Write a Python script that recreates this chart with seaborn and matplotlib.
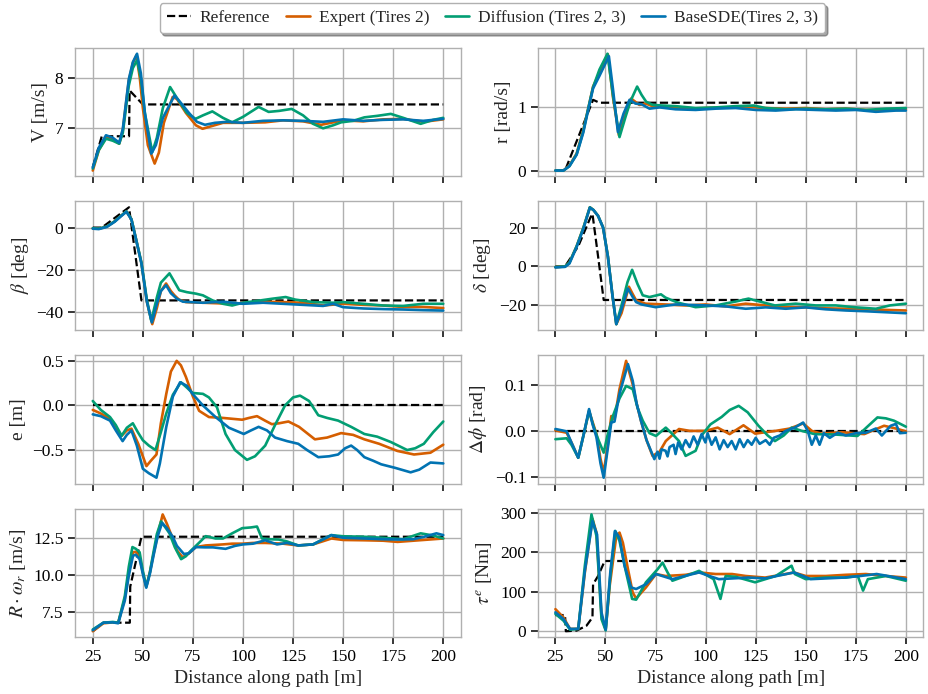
import numpy as np
import pandas as pd
import matplotlib
matplotlib.use("Agg")
import matplotlib.pyplot as plt
import matplotlib.ticker as ticker
import seaborn as sns

SERIES = ["Reference", "Expert (Tires 2)", "Diffusion (Tires 2, 3)", "BaseSDE(Tires 2, 3)"]
COLORS = ["black", "#d55e00", "#029e73", "#0173b2"]
XTICKS = [25, 50, 75, 100, 125, 150, 175, 200]
XLABEL = "Distance along path [m]"

# ---- V [m/s]
v_ref_x = [25, 29.5, 43.1, 43.4, 50, 200]
v_ref_y = [6.21, 6.83, 6.83, 7.75, 7.47, 7.47]
v_exp_x = [25, 28, 31.6, 35, 38.2, 40, 43, 45, 46.8, 48.5, 50, 52.5, 55.9, 58, 60.5, 64.9, 67, 71.5, 76.5, 79.8, 84, 90, 100, 111, 120, 130, 139, 150, 160, 170, 180, 190, 200]
v_exp_y = [6.14, 6.55, 6.81, 6.77, 6.68, 6.95, 7.95, 8.3, 8.46, 8.0, 7.4, 6.65, 6.28, 6.5, 7.1, 7.62, 7.58, 7.3, 7.05, 6.98, 7.03, 7.1, 7.1, 7.11, 7.15, 7.13, 7.06, 7.15, 7.13, 7.17, 7.18, 7.12, 7.17]
v_dif_x = [25, 28, 31.6, 35, 38.2, 40, 43, 45, 47.1, 49, 51, 54.7, 57, 60, 63.6, 67, 72, 76.3, 80, 84.7, 90, 94.6, 100, 107.8, 112.8, 118, 124.3, 130, 135, 140, 145, 149, 155, 160.6, 167, 173.8, 180, 188.7, 195, 200]
v_dif_y = [6.18, 6.55, 6.78, 6.74, 6.68, 6.9, 7.85, 8.2, 8.36, 8.0, 7.3, 6.51, 6.8, 7.4, 7.82, 7.6, 7.3, 7.18, 7.25, 7.33, 7.2, 7.11, 7.22, 7.42, 7.32, 7.34, 7.38, 7.25, 7.08, 6.99, 7.05, 7.11, 7.14, 7.21, 7.24, 7.28, 7.2, 7.08, 7.16, 7.2]
v_sde_x = [25, 28, 31.6, 35, 38.2, 40, 43, 45, 47.1, 49, 51, 54.2, 56.5, 60, 65.8, 69, 73, 77, 81, 86, 92, 100, 110, 120, 130, 140, 150, 160, 170, 180, 190, 200]
v_sde_y = [6.2, 6.6, 6.85, 6.8, 6.7, 6.98, 7.98, 8.32, 8.49, 8.1, 7.3, 6.48, 6.65, 7.2, 7.65, 7.5, 7.3, 7.12, 7.06, 7.1, 7.12, 7.1, 7.14, 7.15, 7.14, 7.12, 7.17, 7.14, 7.16, 7.17, 7.14, 7.18]

# ---- r [rad/s]
r_ref_x = [25, 29.8, 43.8, 47, 200]
r_ref_y = [0, 0, 1.12, 1.074, 1.074]
r_exp_x = [25, 29, 32, 35.6, 38.9, 41.5, 43.8, 47, 51.2, 53.7, 56.7, 59.5, 62.8, 66.9, 70.2, 75, 80, 90, 100, 110, 120, 130, 140, 150, 160, 170, 180, 190, 200]
r_exp_y = [0, 0, 0.08, 0.27, 0.64, 1.0, 1.33, 1.55, 1.84, 1.17, 0.56, 0.85, 1.14, 1.04, 1.06, 1.0, 1.02, 0.98, 0.99, 1.0, 1.01, 0.99, 0.98, 0.99, 0.97, 0.98, 0.96, 0.95, 0.97]
r_dif_x = [25, 29, 32, 35.6, 38.9, 41.5, 43.8, 47, 51, 53.7, 57, 60, 62.5, 65.8, 68, 70.3, 73.6, 78, 85, 95, 105, 115, 124, 130, 140, 150, 160, 170, 180, 190, 200]
r_dif_y = [0, 0, 0.07, 0.26, 0.62, 1.0, 1.32, 1.6, 1.85, 1.2, 0.53, 0.85, 1.1, 1.33, 1.2, 1.09, 1.04, 1.03, 1.02, 0.99, 1.0, 1.02, 1.03, 0.99, 0.97, 0.98, 0.97, 0.98, 0.96, 0.98, 0.99]
r_sde_x = [25, 29, 32, 35.6, 38.9, 41.5, 43.8, 47, 51.7, 53.7, 56.2, 59, 62, 65, 68, 72, 77, 85, 95, 105, 115, 125, 135, 145, 155, 165, 175, 185, 195, 200]
r_sde_y = [0, 0, 0.07, 0.25, 0.6, 0.98, 1.3, 1.5, 1.81, 1.3, 0.61, 0.9, 1.12, 1.06, 1.05, 0.98, 1.0, 0.97, 0.96, 0.98, 0.99, 0.96, 0.95, 0.97, 0.96, 0.95, 0.96, 0.93, 0.95, 0.95]

# ---- beta [deg]
b_ref_x = [25, 29.5, 43.1, 43.6, 49.3, 200]
b_ref_y = [0, 0, 9.6, 6, -34.4, -34.4]
b_exp_x = [25, 28, 32, 36, 39, 41.8, 44.3, 46.5, 49.3, 52, 54.7, 57, 59, 61.6, 64, 65.8, 68, 71.5, 80, 94.6, 110, 120, 130, 140, 150, 160, 170, 180, 190, 200]
b_exp_y = [-0.3, -0.5, 0.5, 3, 5.5, 7.7, 4, -5, -16.8, -35, -45.6, -38, -30, -26.4, -30, -32, -34, -35.2, -35.5, -36, -35, -35.2, -35.5, -36.8, -36, -36.5, -36.8, -37.5, -37.5, -38]
b_dif_x = [25, 28, 32, 36, 39, 41.8, 44.3, 46.5, 49.3, 52, 54.2, 57, 59, 63.3, 66, 68.2, 72, 76.5, 80, 84.8, 90, 94.6, 100, 108, 114.6, 121.3, 126, 135, 145, 150, 160, 170, 180, 190, 200]
b_dif_y = [-0.3, -0.5, 0.5, 3, 5.5, 7.7, 4, -5, -16.5, -34, -44, -33, -26, -21.6, -26, -29.6, -30.5, -31.2, -32, -34.4, -36, -36.8, -35.5, -34.5, -33.6, -32.8, -34, -35.2, -35.5, -35.2, -36, -36.8, -37, -36, -36]
b_sde_x = [25, 28, 32, 36, 39, 41.8, 44.3, 46.5, 49.3, 52, 54.5, 57, 59, 61.6, 64, 67, 70, 80, 90, 100, 110, 120, 130, 140, 145, 150, 160, 170, 180, 190, 200]
b_sde_y = [-0.5, -0.7, 0.3, 2.8, 5.3, 7.5, 3.8, -5.2, -17, -35, -44.8, -36, -30, -27.2, -31, -33.6, -35, -35.5, -35, -36, -35.5, -36, -36.5, -37, -36, -37.6, -38.2, -38.5, -38.7, -39, -39.2]

# ---- delta [deg]
d_ref_x = [25, 29.8, 36.4, 42.5, 43.5, 46.3, 49.1, 200]
d_ref_y = [0, 0, 10.4, 25.2, 27, 5.2, -17.2, -17.2]
d_exp_x = [25, 29.8, 32, 35.6, 39, 42.2, 44, 46.3, 48.8, 51.2, 53.5, 55.4, 58, 61.7, 63.5, 65.3, 70, 80, 90, 100, 110, 120, 130, 140, 150, 160, 170, 180, 190, 200]
d_exp_y = [-0.3, 0, 2, 10.4, 20, 30.4, 29, 26, 20, 5.2, -15, -29.6, -24, -10.4, -14, -17.4, -19.1, -19.5, -20, -19.5, -20.5, -19.1, -20, -20.9, -21, -21.5, -21.7, -22, -22.3, -22.6]
d_dif_x = [25, 29.8, 32, 35.6, 39, 42.2, 44, 46.3, 48.8, 51.2, 53.5, 55.4, 58, 61, 63.3, 66, 68.6, 72, 77.7, 80, 86, 95, 105, 115, 121.4, 127, 134.6, 145, 155, 165, 175, 185, 192, 200]
d_dif_y = [-0.3, 0, 2, 10.4, 20, 30.4, 29, 26, 20, 5.2, -15, -29.6, -20, -8, -1.7, -9, -14.8, -15.7, -14.3, -16, -18.5, -20.9, -20, -18, -16.5, -18, -20, -19.1, -20, -20, -21, -21.7, -20, -19.1]
d_sde_x = [25, 29.8, 32, 35.6, 39, 42.2, 44, 46.3, 48.8, 51.2, 53.5, 55.4, 58, 61.2, 63.5, 65.3, 68, 75, 85, 100, 110, 120, 130, 140, 150, 160, 170, 180, 190, 200]
d_sde_y = [-0.5, -0.2, 1.5, 10, 19.5, 30.2, 29, 26, 20, 5, -15, -29.6, -22, -11.3, -15.5, -18.3, -19.5, -20.9, -19.5, -20, -20.5, -21.7, -21, -21.7, -21, -22, -22.6, -23, -23.5, -24]

# ---- e [m]
e_ref_x = [25, 200]
e_ref_y = [0, 0]
e_exp_x = [25, 29, 33.6, 36.5, 39.4, 42, 44.3, 47.7, 51.8, 54, 56.8, 59, 61.7, 64, 66.9, 69, 71.5, 75, 78.1, 83, 90, 99.6, 103, 107, 111, 114.4, 118, 122.7, 128, 135.9, 142, 149, 155, 160.6, 168, 177.1, 185.4, 193.6, 200]
e_exp_y = [-0.05, -0.09, -0.15, -0.25, -0.34, -0.28, -0.26, -0.43, -0.68, -0.62, -0.55, -0.2, 0.13, 0.38, 0.5, 0.45, 0.32, 0.1, -0.06, -0.13, -0.14, -0.16, -0.14, -0.12, -0.17, -0.21, -0.2, -0.18, -0.24, -0.38, -0.36, -0.31, -0.33, -0.38, -0.43, -0.51, -0.55, -0.53, -0.44]
e_dif_x = [25, 29, 33.6, 36.5, 39.4, 42, 45, 47.5, 50, 53, 56.3, 59, 61.7, 65, 69, 72, 74.8, 80, 83, 87, 91.3, 96, 102, 106, 111.1, 116, 121, 125, 128.5, 133, 137.6, 142, 147.5, 154, 160.6, 167, 173.8, 182, 186, 190.3, 195, 200]
e_dif_y = [0.05, -0.05, -0.13, -0.22, -0.34, -0.25, -0.2, -0.3, -0.39, -0.45, -0.5, -0.3, -0.09, 0.12, 0.26, 0.2, 0.14, 0.13, 0.09, -0.02, -0.32, -0.5, -0.61, -0.57, -0.45, -0.22, 0, 0.09, 0.11, 0.05, -0.11, -0.14, -0.17, -0.24, -0.32, -0.35, -0.41, -0.5, -0.48, -0.43, -0.3, -0.18]
e_sde_x = [25, 29, 33.6, 36.5, 39.9, 42, 44.3, 47, 50, 53, 56.8, 58.5, 61.7, 65, 68.6, 72, 74.8, 80, 86.3, 93, 100.4, 104, 107.8, 112, 116, 122, 127.6, 132, 137.6, 143, 147.5, 151, 154, 157, 160.6, 165, 169, 176, 183.7, 188, 193.6, 200]
e_sde_y = [-0.1, -0.12, -0.17, -0.28, -0.4, -0.33, -0.28, -0.45, -0.71, -0.76, -0.81, -0.65, -0.24, 0.1, 0.26, 0.22, 0.13, 0.0, -0.13, -0.25, -0.32, -0.28, -0.24, -0.28, -0.36, -0.4, -0.43, -0.5, -0.58, -0.57, -0.55, -0.48, -0.45, -0.5, -0.58, -0.62, -0.66, -0.7, -0.75, -0.72, -0.64, -0.65]

# ---- delta phi [rad]
p_ref_x = [25, 200]
p_ref_y = [0, 0]
p_exp_x = [25, 30.6, 33, 36.4, 39, 41.8, 43.5, 45.5, 47.5, 49.1, 51.2, 52.9, 54.5, 57, 60.3, 63.6, 65.5, 67.7, 70.5, 73.5, 77, 80.1, 86.7, 92, 99.9, 106, 112, 118.9, 124.7, 135, 142, 148.7, 153, 157.7, 168, 179.2, 189.1, 195, 200]
p_exp_y = [0.001, -0.004, -0.025, -0.058, -0.01, 0.043, 0.02, -0.007, -0.06, -0.09, -0.029, 0.032, 0.025, 0.09, 0.151, 0.1, 0.06, 0.022, -0.02, -0.054, -0.045, -0.022, 0.004, 0.0, 0.0, 0.007, -0.007, 0.012, -0.006, 0.0, 0.005, 0.016, 0.0, -0.006, -0.003, -0.007, 0.011, 0.005, -0.001]
p_dif_x = [25, 30.6, 33, 36.4, 39, 41.8, 44, 46.5, 49.1, 51, 53.7, 57, 60.3, 63.6, 66, 68.6, 72, 75.2, 80.1, 83, 86.7, 90, 95, 98, 102.4, 108, 112, 116.5, 121, 126.4, 131, 134.6, 139, 143, 148, 154.4, 165, 175.8, 181, 185.8, 190, 194, 200]
p_dif_y = [-0.018, -0.016, -0.03, -0.058, -0.01, 0.043, 0.01, -0.02, -0.047, -0.01, 0.032, 0.07, 0.097, 0.09, 0.05, 0.022, -0.005, -0.011, 0.007, -0.005, -0.022, -0.054, -0.043, -0.01, 0.014, 0.03, 0.045, 0.054, 0.04, 0.011, -0.01, -0.022, -0.01, 0.007, 0.0, -0.007, -0.008, -0.011, 0.01, 0.029, 0.027, 0.022, 0.009]
p_sde_x = [25, 30.6, 33, 36.4, 39, 41.8, 43.5, 45.5, 47.5, 49.1, 51.2, 52.9, 54.5, 57, 61.2, 63.6, 65.5, 67.7, 70.5, 74.4, 76, 77, 78, 80, 81, 82, 84, 85, 86.3, 88, 90, 92, 94, 96, 98, 99.9, 101, 103, 105, 107, 109, 111, 113, 115, 117, 119, 121, 123, 125, 127, 130, 132, 134, 137, 140, 144.5, 148.7, 151, 153, 155, 156.9, 159, 162, 166, 170, 175, 180, 185, 188, 192.4, 195, 197, 200]
p_sde_y = [0.004, -0.001, -0.025, -0.058, -0.01, 0.047, 0.015, -0.014, -0.07, -0.101, -0.036, 0.018, 0.02, 0.08, 0.144, 0.108, 0.06, 0.022, -0.02, -0.061, -0.045, -0.06, -0.04, -0.043, -0.055, -0.035, -0.03, -0.05, -0.025, -0.04, -0.02, -0.035, -0.012, -0.03, -0.007, -0.025, -0.005, -0.03, -0.014, -0.04, -0.02, -0.035, -0.022, -0.04, -0.018, -0.035, -0.02, -0.03, -0.015, -0.028, -0.02, -0.03, -0.015, -0.01, 0.0, 0.007, 0.018, 0.0, -0.03, -0.01, -0.03, -0.005, -0.015, -0.004, -0.01, -0.005, -0.004, 0.005, -0.01, 0.011, 0.015, -0.005, -0.004]

# ---- R*omega_r [m/s]
w_ref_x = [25, 30.3, 43.5, 43.7, 49.3, 200]
w_ref_y = [6.22, 6.8, 6.8, 9.24, 12.62, 12.62]
w_exp_x = [25, 30.3, 35, 37.7, 41, 43, 45.1, 46.5, 48.4, 50, 51.7, 53.5, 55, 57.5, 59.9, 62, 64.9, 67, 69.9, 73, 76.5, 81.4, 90, 94.6, 100, 105, 111.1, 120, 127.6, 135, 144.2, 150, 160.6, 170, 177.2, 185, 190, 200]
w_exp_y = [6.22, 6.76, 6.82, 6.8, 8.43, 10.2, 11.57, 11.6, 11.22, 10.2, 9.24, 10.2, 11.22, 12.8, 14.13, 13.5, 12.5, 11.7, 11.22, 11.5, 11.92, 12.03, 12.1, 12.15, 12.15, 12.2, 12.2, 12.15, 12.03, 12.1, 12.5, 12.4, 12.38, 12.35, 12.27, 12.35, 12.4, 12.5]
w_dif_x = [25, 30.3, 35, 37.7, 41, 43, 44.8, 46.5, 48.4, 50, 51.7, 53.5, 55, 57, 59.1, 61, 63.3, 66, 69.1, 71.5, 74.1, 78, 81.4, 86.3, 90, 94.6, 99.6, 104, 107, 109.5, 113, 117.8, 122, 127.6, 135, 144, 150, 160, 170, 180, 188.7, 195, 200]
w_dif_y = [6.34, 6.8, 6.85, 6.8, 8.6, 10.6, 11.92, 11.8, 11.57, 10.3, 9.24, 10.2, 11.34, 12.8, 13.66, 13.3, 12.85, 11.9, 11.1, 11.3, 11.69, 12.2, 12.66, 12.5, 12.5, 12.85, 13.2, 13.25, 13.31, 12.5, 12.45, 12.43, 12.3, 12.03, 12.1, 12.73, 12.65, 12.62, 12.55, 12.45, 12.85, 12.7, 12.5]
w_sde_x = [25, 30.3, 35, 37.7, 41, 43, 45.1, 46.5, 48.4, 50, 51.7, 53.5, 55.5, 57.5, 59.6, 62, 64.9, 67, 70.5, 73, 76.5, 81, 85, 91.3, 96, 100, 105, 111.1, 117, 122, 127.6, 135, 144.2, 150, 160.6, 170, 177.2, 185, 190, 196.6, 200]
w_sde_y = [6.29, 6.8, 6.82, 6.76, 8.3, 10.0, 11.34, 11.4, 11.1, 10.1, 9.17, 10.1, 11.45, 12.7, 13.55, 13.2, 12.62, 12.0, 11.45, 11.5, 11.92, 11.9, 11.9, 11.8, 12.0, 12.1, 12.15, 12.38, 12.1, 12.2, 12.03, 12.1, 12.73, 12.55, 12.5, 12.45, 12.43, 12.45, 12.6, 12.85, 12.73]

# ---- tau^e [Nm]
t_ref_x = [25, 29.8, 30.2, 35.6, 40.5, 43.5, 43.8, 46.3, 49.6, 200]
t_ref_y = [41, 41, 0, 1.7, 14, 35, 119, 140, 178, 178]
t_exp_x = [25, 29, 32.3, 36.4, 39.7, 43.5, 45.5, 48, 50.1, 52.1, 55.4, 57, 58.7, 61.2, 63.6, 65.3, 70.2, 75.2, 80, 90, 96.7, 105, 113.2, 120, 129.7, 140, 144, 150, 160, 170, 180, 190, 200]
t_exp_y = [56, 35, 6, 6, 149, 285, 250, 40, 4, 115, 241, 250, 224, 158, 98, 83, 111, 145, 140, 143, 149, 145, 145, 140, 136, 145, 149, 140, 140, 143, 145, 140, 136]
t_dif_x = [25, 29, 32.3, 36.4, 39.7, 43, 45.5, 48, 50.1, 52.4, 54.9, 57, 60.3, 63.3, 65.3, 70.2, 76, 78.5, 81, 83.4, 90, 96.7, 104, 107.4, 110, 115, 124.7, 135, 142.9, 144.5, 150, 160, 170, 176, 178.6, 181, 190, 200]
t_dif_y = [44, 27, 4, 6, 166, 296, 241, 31, 2, 140, 254, 229, 149, 82, 80, 124, 157, 174, 149, 128, 140, 153, 132, 82, 140, 138, 124, 140, 166, 145, 132, 136, 136, 140, 103, 132, 140, 128]
t_sde_x = [25, 29, 32.3, 36.4, 39.7, 43.5, 45.8, 48, 50.1, 52.4, 54.7, 57, 59.5, 62.8, 65.3, 70.2, 75.2, 83.4, 96.7, 106.6, 121.3, 129.7, 144.2, 152.5, 169, 177.2, 185.4, 200]
t_sde_y = [48, 31, 6, 6, 153, 279, 245, 48, 4, 149, 254, 237, 166, 111, 107, 119, 145, 132, 149, 132, 136, 134, 149, 132, 136, 140, 145, 132]

# panels: (row, col, ylabel, ytick step, curves)
panels = [
    (0, 0, "V [m/s]", 1, [(v_ref_x, v_ref_y), (v_exp_x, v_exp_y), (v_dif_x, v_dif_y), (v_sde_x, v_sde_y)]),
    (0, 1, "r [rad/s]", 1, [(r_ref_x, r_ref_y), (r_exp_x, r_exp_y), (r_dif_x, r_dif_y), (r_sde_x, r_sde_y)]),
    (1, 0, r"$\beta$ [deg]", 20, [(b_ref_x, b_ref_y), (b_exp_x, b_exp_y), (b_dif_x, b_dif_y), (b_sde_x, b_sde_y)]),
    (1, 1, r"$\delta$ [deg]", 20, [(d_ref_x, d_ref_y), (d_exp_x, d_exp_y), (d_dif_x, d_dif_y), (d_sde_x, d_sde_y)]),
    (2, 0, "e [m]", 0.5, [(e_ref_x, e_ref_y), (e_exp_x, e_exp_y), (e_dif_x, e_dif_y), (e_sde_x, e_sde_y)]),
    (2, 1, r"$\Delta\phi$ [rad]", 0.1, [(p_ref_x, p_ref_y), (p_exp_x, p_exp_y), (p_dif_x, p_dif_y), (p_sde_x, p_sde_y)]),
    (3, 0, r"$R\cdot\omega_r$ [m/s]", 2.5, [(w_ref_x, w_ref_y), (w_exp_x, w_exp_y), (w_dif_x, w_dif_y), (w_sde_x, w_sde_y)]),
    (3, 1, r"$\tau^e$ [Nm]", 100, [(t_ref_x, t_ref_y), (t_exp_x, t_exp_y), (t_dif_x, t_dif_y), (t_sde_x, t_sde_y)]),
]

sns.set_style("whitegrid", {"xtick.bottom": True, "ytick.left": True,
                            "axes.edgecolor": "#b0b0b0", "grid.color": "#b0b0b0",
                            "xtick.color": "black", "ytick.color": "black"})
plt.rcParams["font.family"] = ["Liberation Serif", "DejaVu Serif"]
plt.rcParams["mathtext.fontset"] = "stix"
plt.rcParams["xtick.labelsize"] = 12.5
plt.rcParams["ytick.labelsize"] = 12.5
plt.rcParams["axes.labelsize"] = 14
plt.rcParams["xtick.major.size"] = 5
plt.rcParams["ytick.major.size"] = 5
plt.rcParams["xtick.major.width"] = 1.1
plt.rcParams["ytick.major.width"] = 1.1
plt.rcParams["axes.linewidth"] = 1.0
plt.rcParams["grid.linewidth"] = 1.0

fig, axes = plt.subplots(4, 2, figsize=(9.29, 6.94), dpi=100, sharex=True)
fig.subplots_adjust(left=0.081, right=0.994, top=0.931, bottom=0.082, wspace=0.2, hspace=0.195)

for row, col, ylabel, step, curves in panels:
    ax = axes[row, col]
    for k, (xs, ys) in enumerate(curves):
        df = pd.DataFrame({"x": xs, "y": ys})
        sns.lineplot(data=df, x="x", y="y", ax=ax, color=COLORS[k],
                     linestyle="--" if k == 0 else "-", lw=1.6 if k == 0 else 1.9,
                     estimator=None, sort=False, label=SERIES[k])
    if ax.get_legend() is not None:
        ax.get_legend().remove()
    ax.set_ylabel(ylabel)
    ax.set_xlabel(XLABEL if row == 3 else "")
    ax.yaxis.set_major_locator(ticker.MultipleLocator(step))
    ax.set_xticks(XTICKS)

handles, labels = axes[0, 0].get_legend_handles_labels()
leg = fig.legend(handles[:4], labels[:4], loc="upper center", bbox_to_anchor=(0.53, 1.008),
                 ncol=4, fontsize=12.5, frameon=True, fancybox=True, shadow=True,
                 handlelength=1.4, columnspacing=0.9, handletextpad=0.5, borderpad=0.4)
leg.get_frame().set_edgecolor("#b0b0b0")
leg.get_frame().set_facecolor("white")

fig.savefig("out.png", dpi=100)
